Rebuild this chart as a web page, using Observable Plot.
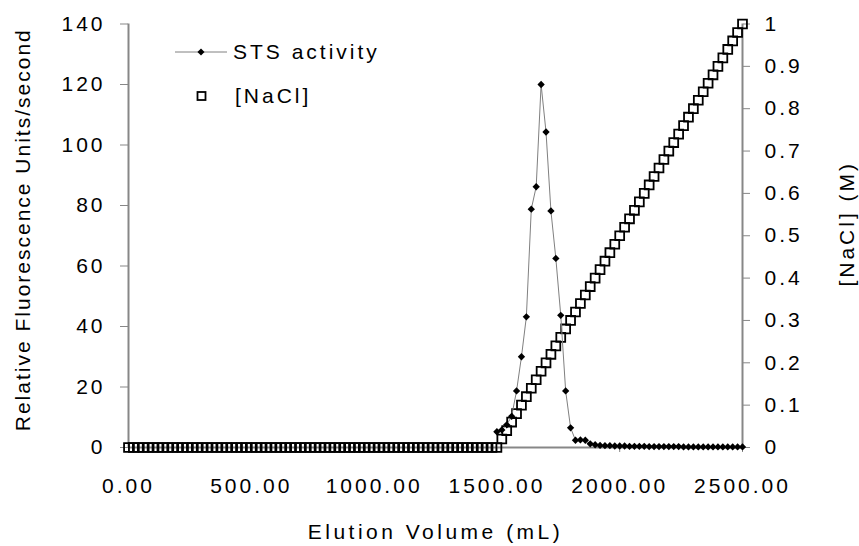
<!DOCTYPE html>
<html>
<head>
<meta charset="utf-8">
<script src="https://cdn.jsdelivr.net/npm/d3@7"></script>
<script src="https://cdn.jsdelivr.net/npm/@observablehq/plot@0.6"></script>
<style>
  html, body { margin: 0; padding: 0; background: #fff; }
  #chart { position: relative; width: 859px; height: 546px; }
  #chart svg text { letter-spacing: 3px; }
  #legend text { letter-spacing: 2.5px; }
  #legend { position: absolute; left: 0; top: 0; }
</style>
</head>
<body>
<div id="chart"></div>
<script>
// Fraction volumes (mL) at which the salt concentration was recorded
const volume = [
  0, 20, 40, 60, 80, 100, 120, 140, 160, 180,
  200, 220, 240, 260, 280, 300, 320, 340, 360, 380,
  400, 420, 440, 460, 480, 500, 520, 540, 560, 580,
  600, 620, 640, 660, 680, 700, 720, 740, 760, 780,
  800, 820, 840, 860, 880, 900, 920, 940, 960, 980,
  1000, 1020, 1040, 1060, 1080, 1100, 1120, 1140, 1160, 1180,
  1200, 1220, 1240, 1260, 1280, 1300, 1320, 1340, 1360, 1380,
  1400, 1420, 1440, 1460, 1480, 1500, 1520, 1540, 1560, 1580,
  1600, 1620, 1640, 1660, 1680, 1700, 1720, 1740, 1760, 1780,
  1800, 1820, 1840, 1860, 1880, 1900, 1920, 1940, 1960, 1980,
  2000, 2020, 2040, 2060, 2080, 2100, 2120, 2140, 2160, 2180,
  2200, 2220, 2240, 2260, 2280, 2300, 2320, 2340, 2360, 2380,
  2400, 2420, 2440, 2460, 2480, 2500
];

// [NaCl] (M) for each fraction
const nacl = [
  0, 0, 0, 0, 0, 0, 0, 0, 0, 0,
  0, 0, 0, 0, 0, 0, 0, 0, 0, 0,
  0, 0, 0, 0, 0, 0, 0, 0, 0, 0,
  0, 0, 0, 0, 0, 0, 0, 0, 0, 0,
  0, 0, 0, 0, 0, 0, 0, 0, 0, 0,
  0, 0, 0, 0, 0, 0, 0, 0, 0, 0,
  0, 0, 0, 0, 0, 0, 0, 0, 0, 0,
  0, 0, 0, 0, 0, 0, 0.02, 0.04, 0.06, 0.08,
  0.10, 0.12, 0.14, 0.16, 0.18, 0.20, 0.22, 0.24, 0.26, 0.28,
  0.30, 0.32, 0.34, 0.36, 0.38, 0.40, 0.42, 0.44, 0.46, 0.48,
  0.50, 0.52, 0.54, 0.56, 0.58, 0.60, 0.62, 0.64, 0.66, 0.68,
  0.70, 0.72, 0.74, 0.76, 0.78, 0.80, 0.82, 0.84, 0.86, 0.88,
  0.90, 0.92, 0.94, 0.96, 0.98, 1.00
];

// Fractions assayed for STS activity
const stsVolume = [
  1500, 1520, 1540, 1560, 1580, 1600, 1620, 1640, 1660, 1680,
  1700, 1720, 1740, 1760, 1780, 1800, 1820, 1840, 1860, 1880,
  1900, 1920, 1940, 1960, 1980, 2000, 2020, 2040, 2060, 2080,
  2100, 2120, 2140, 2160, 2180, 2200, 2220, 2240, 2260, 2280,
  2300, 2320, 2340, 2360, 2380, 2400, 2420, 2440, 2460, 2480,
  2500
];

// STS activity (relative fluorescence units/second)
const stsActivity = [
  5.2, 5.8, 7.5, 10.3, 18.7, 30.0, 43.2, 78.8, 86.2, 120.0,
  104.3, 78.2, 62.5, 43.7, 18.7, 6.5, 2.4, 2.5, 2.4, 1.2,
  0.9, 0.7, 0.6, 0.6, 0.5, 0.5, 0.5, 0.4, 0.4, 0.4,
  0.4, 0.3, 0.3, 0.3, 0.3, 0.3, 0.3, 0.3, 0.2, 0.2,
  0.2, 0.2, 0.2, 0.2, 0.2, 0.2, 0.2, 0.2, 0.2, 0.2,
  0.2
];

// Axis ticks and titles
const activityTicks = [0, 20, 40, 60, 80, 100, 120, 140];
const naclTicks = [0, 0.1, 0.2, 0.3, 0.4, 0.5, 0.6, 0.7, 0.8, 0.9, 1];
const volumeTicks = [0, 500, 1000, 1500, 2000, 2500];
const xTitle = "Elution Volume (mL)";
const yTitle = "Relative Fluorescence Units/second";
const y2Title = "[NaCl] (M)";

// The salt axis shares the activity scale: 1 M sits at the top of the activity range
const yMax = 140;
const axisGray = "#878787";

const naclRows = volume.map((v, i) => ({ v, c: nacl[i] }));
const stsRows = stsVolume.map((v, i) => ({ v, a: stsActivity[i] }));

const chart = Plot.plot({
  width: 859,
  height: 546,
  marginLeft: 128,
  marginRight: 117,
  marginTop: 23.5,
  marginBottom: 99,
  style: {
    fontFamily: "'Liberation Sans', Arial, sans-serif",
    fontSize: "21px",
    color: "#000",
    background: "#fff"
  },
  x: { domain: [0, 2500] },
  y: { domain: [0, yMax] },
  marks: [
    // axis lines
    Plot.ruleY([0], { stroke: axisGray, strokeWidth: 2 }),
    Plot.ruleX([0], { stroke: axisGray, strokeWidth: 2 }),
    Plot.ruleX([2500], { stroke: axisGray, strokeWidth: 2 }),
    Plot.axisX({
      ticks: volumeTicks,
      tickFormat: d3.format(".2f"),
      tickSize: 5,
      tickPadding: 26,
      stroke: axisGray,
      label: null
    }),
    Plot.axisY({
      anchor: "left",
      ticks: activityTicks,
      tickSize: 8,
      tickPadding: 15,
      stroke: axisGray,
      label: null
    }),
    Plot.axisY({
      anchor: "right",
      ticks: naclTicks.map(t => t * yMax),
      tickFormat: d => String(+(d / yMax).toFixed(1)),
      tickSize: 7,
      tickPadding: 15,
      stroke: axisGray,
      label: null
    }),
    // axis titles
    Plot.text([xTitle], { frameAnchor: "bottom", textAnchor: "middle", lineAnchor: "middle", dy: 85, fontSize: 21 }),
    Plot.text([yTitle], { frameAnchor: "left", textAnchor: "middle", lineAnchor: "middle", rotate: -90, dx: -105, dy: -6, fontSize: 21 }),
    Plot.text([y2Title], { frameAnchor: "right", textAnchor: "middle", lineAnchor: "middle", rotate: -90, dx: 105, dy: -12, fontSize: 21 }),
    // salt gradient
    Plot.dot(naclRows, {
      x: "v",
      y: d => d.c * yMax,
      symbol: "square",
      r: 5,
      fill: "none",
      stroke: "#000",
      strokeWidth: 1.8
    }),
    // activity profile
    Plot.line(stsRows, { x: "v", y: "a", stroke: "#808080", strokeWidth: 1 }),
    Plot.dot(stsRows, {
      x: "v",
      y: "a",
      symbol: "diamond2",
      r: 3.3,
      fill: "#000",
      stroke: "none"
    })
  ]
});

// Title spacing tweaks
d3.select(chart).selectAll("text")
  .filter(function () { return this.textContent === yTitle; })
  .style("letter-spacing", "2px");
d3.select(chart).selectAll("text")
  .filter(function () { return this.textContent === xTitle; })
  .style("letter-spacing", "3.5px");

const container = document.getElementById("chart");
container.appendChild(chart);

// Legend in the upper-left of the plot area
const legend = d3.select(container).append("svg")
  .attr("id", "legend")
  .attr("width", 400)
  .attr("height", 120)
  .style("font-family", "'Liberation Sans', Arial, sans-serif")
  .style("font-size", "21px");

const lg1 = legend.append("g").attr("transform", "translate(0,52)");
lg1.append("line").attr("x1", 175).attr("x2", 227).attr("y1", 0).attr("y2", 0)
  .attr("stroke", "#808080").attr("stroke-width", 1);
lg1.append("path").attr("transform", "translate(201,0)")
  .attr("d", d3.symbol(d3.symbolDiamond2, 32)()).attr("fill", "#000");
lg1.append("text").attr("x", 233).attr("y", 0).attr("dy", "0.35em").text("STS activity");

const lg2 = legend.append("g").attr("transform", "translate(0,96)");
lg2.append("rect").attr("x", 197.5).attr("y", -4).attr("width", 8).attr("height", 8)
  .attr("fill", "none").attr("stroke", "#000").attr("stroke-width", 1.8);
lg2.append("text").attr("x", 235).attr("y", 0).attr("dy", "0.35em").text("[NaCl]");
</script>
</body>
</html>
